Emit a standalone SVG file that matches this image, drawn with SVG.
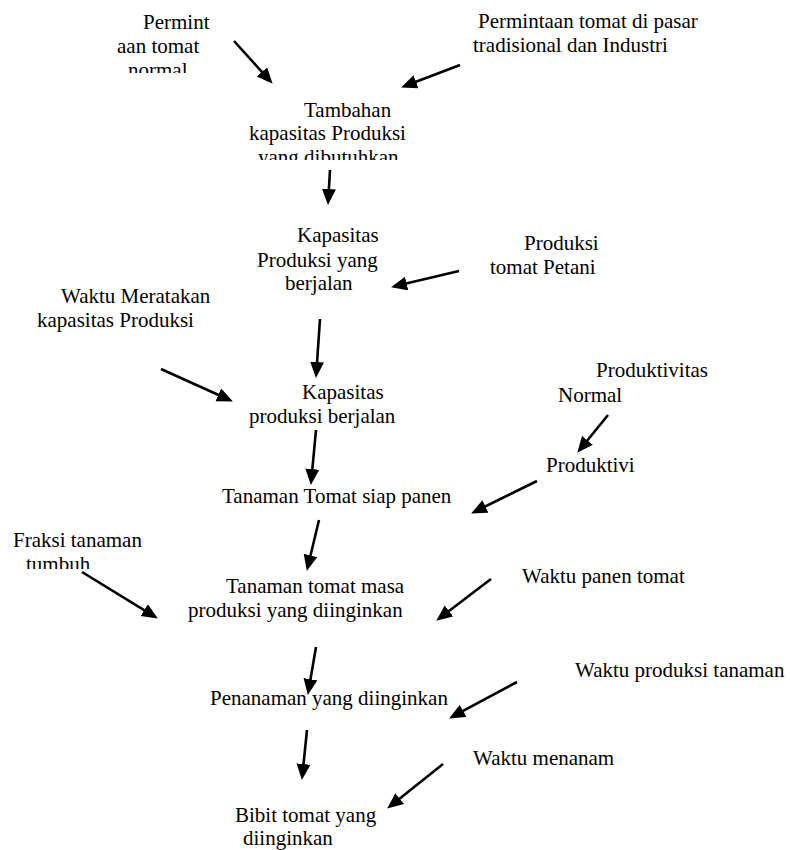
<svg xmlns="http://www.w3.org/2000/svg" width="790" height="850" viewBox="0 0 790 850">
<style>
text{font-family:"Liberation Serif","Times New Roman",serif;font-size:21px;fill:#000}
.c{stroke:#000;stroke-width:2.6;fill:none;marker-end:url(#ah)}
</style>
<defs>
<marker id="ah" markerUnits="userSpaceOnUse" markerWidth="17" markerHeight="15" refX="7" refY="7" orient="auto">
<path d="M0,0 L16,7 L0,14 z" fill="#000"/>
</marker>
<clipPath id="clipA"><rect x="100" y="0" width="140" height="73"/></clipPath>
<clipPath id="clipB"><rect x="230" y="90" width="200" height="70"/></clipPath>
<clipPath id="clipC"><rect x="0" y="525" width="160" height="44"/></clipPath>
<clipPath id="clipD"><rect x="530" y="450" width="140" height="38"/></clipPath>
</defs>
<rect width="790" height="850" fill="#fff"/>

<g id="n-permintaan-normal" clip-path="url(#clipA)">
<text x="143" y="29">Permint</text>
<text x="117" y="53">aan tomat</text>
<text x="128" y="77">normal</text>
</g>
<g id="n-permintaan-pasar">
<text x="478" y="28">Permintaan tomat di pasar</text>
<text x="473" y="52">tradisional dan Industri</text>
</g>
<g id="n-tambahan" clip-path="url(#clipB)">
<text x="304" y="117">Tambahan</text>
<text x="249" y="140">kapasitas Produksi</text>
<text x="258" y="164">yang dibutuhkan</text>
</g>
<g id="n-kapasitas-yang-berjalan">
<text x="297" y="242">Kapasitas</text>
<text x="257" y="267">Produksi yang</text>
<text x="285" y="290">berjalan</text>
</g>
<g id="n-produksi-petani">
<text x="524" y="250">Produksi</text>
<text x="490" y="274">tomat Petani</text>
</g>
<g id="n-waktu-meratakan">
<text x="61" y="303">Waktu Meratakan</text>
<text x="37" y="327">kapasitas Produksi</text>
</g>
<g id="n-kapasitas-berjalan">
<text x="302" y="399">Kapasitas</text>
<text x="249" y="423">produksi berjalan</text>
</g>
<g id="n-produktivitas-normal">
<text x="596" y="377">Produktivitas</text>
<text x="558" y="402">Normal</text>
</g>
<g id="n-produktivitas" clip-path="url(#clipD)">
<text x="546" y="472">Produktivi</text>
</g>
<g id="n-siap-panen">
<text x="222" y="503">Tanaman Tomat siap panen</text>
</g>
<g id="n-fraksi" clip-path="url(#clipC)">
<text x="13" y="547">Fraksi tanaman</text>
<text x="26" y="571">tumbuh</text>
</g>
<g id="n-masa-produksi">
<text x="226" y="593">Tanaman tomat masa</text>
<text x="188" y="617">produksi yang diinginkan</text>
</g>
<g id="n-waktu-panen">
<text x="522" y="583">Waktu panen tomat</text>
</g>
<g id="n-waktu-produksi">
<text x="575" y="677">Waktu produksi tanaman</text>
</g>
<g id="n-penanaman">
<text x="210" y="705">Penanaman yang diinginkan</text>
</g>
<g id="n-waktu-menanam">
<text x="473" y="765">Waktu menanam</text>
</g>
<g id="n-bibit">
<text x="235" y="822">Bibit tomat yang</text>
<text x="243" y="845">diinginkan</text>
</g>

<g id="connectors">
<line class="c" x1="234" y1="41" x2="266.6" y2="77.1"/>
<line class="c" x1="460" y1="65" x2="409.5" y2="84.2"/>
<line class="c" x1="330" y1="170" x2="328.5" y2="196"/>
<line class="c" x1="459" y1="271" x2="399.8" y2="285.1"/>
<line class="c" x1="320" y1="319" x2="316.6" y2="369"/>
<line class="c" x1="161" y1="369" x2="224.7" y2="397.7"/>
<line class="c" x1="316" y1="430" x2="311.7" y2="476"/>
<line class="c" x1="608" y1="415" x2="583" y2="445.8"/>
<line class="c" x1="537" y1="481" x2="479.2" y2="509.5"/>
<line class="c" x1="319" y1="520" x2="308.9" y2="562.2"/>
<line class="c" x1="82" y1="572" x2="150.2" y2="613.8"/>
<line class="c" x1="491" y1="579" x2="443.4" y2="615.2"/>
<line class="c" x1="316" y1="647" x2="309.3" y2="686.1"/>
<line class="c" x1="517" y1="682" x2="457" y2="714.2"/>
<line class="c" x1="307" y1="730" x2="302.8" y2="771"/>
<line class="c" x1="443" y1="764" x2="394.2" y2="803"/>
</g>
</svg>
